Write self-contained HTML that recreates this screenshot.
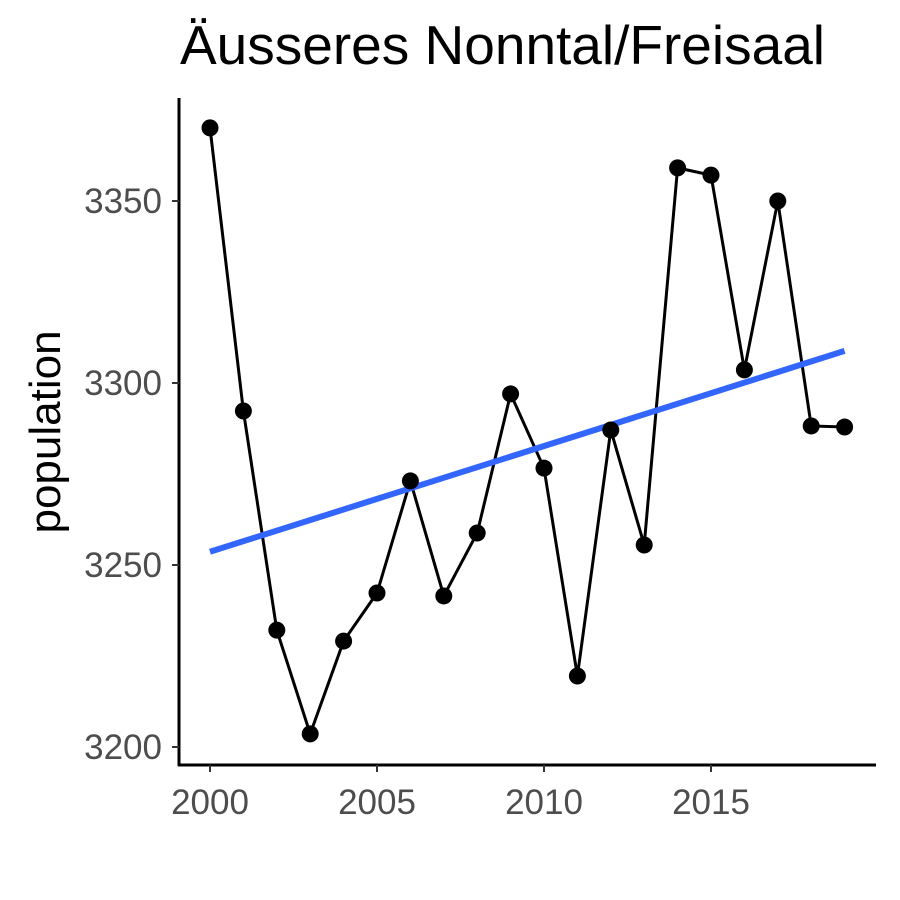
<!DOCTYPE html>
<html><head><meta charset="utf-8"><style>
html,body{margin:0;padding:0;background:#fff;}
svg{display:block;font-family:"Liberation Sans",sans-serif;}
</style></head><body>
<svg id="chart" width="900" height="900">
<text x="180" y="64" font-size="55" fill="#000">Äusseres Nonntal/Freisaal</text>
<text transform="translate(60,432) rotate(-90)" text-anchor="middle" font-size="44" fill="#000">population</text>
<g id="plot"></g>
</svg>
<script>
const years = [2000,2001,2002,2003,2004,2005,2006,2007,2008,2009,2010,2011,2012,2013,2014,2015,2016,2017,2018,2019];
const population = [3370.1,3292.3,3232.1,3203.6,3229.1,3242.3,3273.1,3241.5,3258.8,3297.0,3276.6,3219.5,3287.1,3255.5,3359.1,3357.1,3303.6,3350.0,3288.2,3287.9];
const yTicks = [3200,3250,3300,3350];
const xTicks = [2000,2005,2010,2015];

const ns="http://www.w3.org/2000/svg";
const g=document.getElementById('plot');
const xs=v=>210+(v-2000)*(711-210)/15;
const ys=v=>747-(v-3200)*(747-201)/150;
function mk(t,a){const e=document.createElementNS(ns,t);for(const k in a)e.setAttribute(k,a[k]);g.appendChild(e);return e;}

let ax=mk('line',{x1:179,y1:98,x2:179,y2:766,stroke:'#000','stroke-width':3});


ax=mk('line',{x1:178,y1:765,x2:876,y2:765,stroke:'#000','stroke-width':3});



yTicks.forEach(v=>{
  const y=ys(v);
  const t=mk('line',{x1:172,y1:y,x2:179,y2:y,stroke:'#333','stroke-width':2});
  
  
  const l=mk('text',{x:162,y:y+12,'text-anchor':'end','font-size':35,fill:'#4d4d4d'});
  l.textContent=v;
  
  
});
xTicks.forEach(v=>{
  const x=xs(v);
  const t=mk('line',{x1:x,y1:765,x2:x,y2:772,stroke:'#333','stroke-width':2});
  
  
  const l=mk('text',{x:x,y:814,'text-anchor':'middle','font-size':35,fill:'#4d4d4d'});
  l.textContent=v;
  
  
});

const line=mk('polyline',{points:years.map((y,i)=>xs(y)+','+ys(population[i])).join(' '),fill:'none',stroke:'#000','stroke-width':3});



const n=years.length,mx=years.reduce((a,b)=>a+b)/n,my=population.reduce((a,b)=>a+b)/n;
let sxy=0,sxx=0;years.forEach((x,i)=>{sxy+=(x-mx)*(population[i]-my);sxx+=(x-mx)**2;});
const b=sxy/sxx,a=my-b*mx;
const x0=years[0],x1=years[n-1];
const tr=mk('line',{x1:xs(x0),y1:ys(a+b*x0),x2:xs(x1),y2:ys(a+b*x1),stroke:'#3366ff','stroke-width':6});



years.forEach((y,i)=>{
  const c=mk('circle',{cx:xs(y),cy:ys(population[i]),r:8.5,fill:'#000'});
  
  
});
</script>
</body></html>
